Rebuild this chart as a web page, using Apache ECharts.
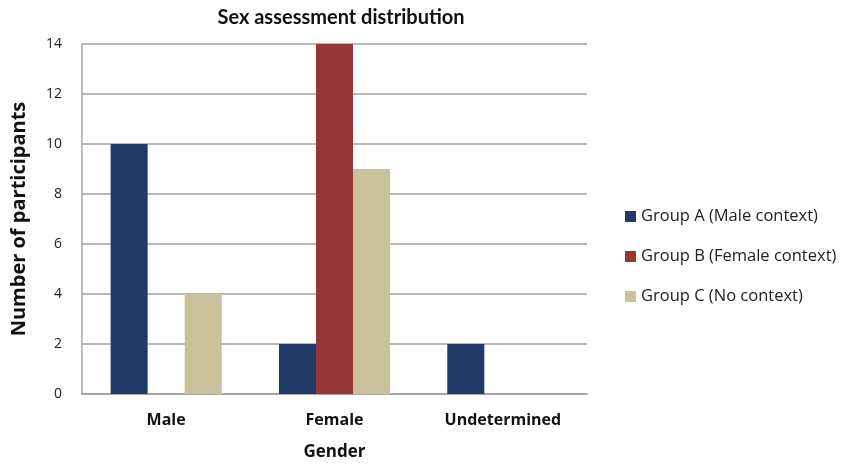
<!DOCTYPE html>
<html>
<head>
<meta charset="utf-8">
<script src="https://cdn.jsdelivr.net/npm/echarts@6/dist/echarts.min.js"></script>
<style>
  html, body { margin: 0; padding: 0; background: #fff; }
  #chart { width: 845px; height: 464px; }
</style>
</head>
<body>
<div id="chart"></div>
<script>
// Category labels and per-group counts
const categories = ['Male', 'Female', 'Undetermined'];
const groupA = [10, 2, 2];
const groupB = [0, 14, 0];
const groupC = [4, 9, 0];
const seriesNames = ['Group A (Male context)', 'Group B (Female context)', 'Group C (No context)'];
const seriesColors = ['#1f3b66', '#953735', '#c9c19a'];

const titleFont = 'Lato, "Open Sans", sans-serif';
const bodyFont = '"Open Sans", sans-serif';

const chart = echarts.init(document.getElementById('chart'));
chart.setOption({
  animation: false,
  title: {
    text: 'Sex assessment distribution',
    left: 336, top: 3, textAlign: 'center',
    textStyle: { fontFamily: titleFont, fontWeight: 'bold', fontSize: 20, color: '#111' }
  },
  legend: {
    orient: 'vertical',
    left: 620, top: 203,
    itemGap: 23,
    itemWidth: 11, itemHeight: 11,
    icon: 'rect',
    textStyle: { fontFamily: bodyFont, fontSize: 16.5, color: '#222' },
    data: seriesNames
  },
  grid: { left: 82, right: 258, top: 44, bottom: 70, outerBoundsMode: 'none' },
  xAxis: {
    type: 'category',
    data: categories,
    name: 'Gender',
    nameLocation: 'middle',
    nameGap: 50,
    nameTextStyle: { fontFamily: bodyFont, fontWeight: 'bold', fontSize: 17, color: '#111' },
    axisLine: { lineStyle: { color: '#a6a6a6', width: 2 } },
    axisTick: { show: false },
    axisLabel: { fontFamily: bodyFont, fontWeight: 'bold', fontSize: 16, color: '#111', margin: 18 }
  },
  yAxis: {
    type: 'value',
    min: 0, max: 14, interval: 2,
    name: 'Number of participants',
    nameLocation: 'middle',
    nameGap: 53,
    nameTextStyle: { fontFamily: bodyFont, fontWeight: 'bold', fontSize: 20, color: '#111' },
    axisLine: { show: true, lineStyle: { color: '#a6a6a6', width: 1.5 } },
    axisTick: { show: false },
    axisLabel: { fontFamily: bodyFont, fontSize: 14, color: '#222', margin: 20 },
    splitLine: { lineStyle: { color: '#b8b8b8', width: 2 } }
  },
  series: [groupA, groupB, groupC].map((vals, i) => ({
    name: seriesNames[i],
    type: 'bar',
    data: vals,
    barGap: '0%',
    barCategoryGap: '34%',
    itemStyle: { color: seriesColors[i] }
  }))
});
</script>
</body>
</html>
